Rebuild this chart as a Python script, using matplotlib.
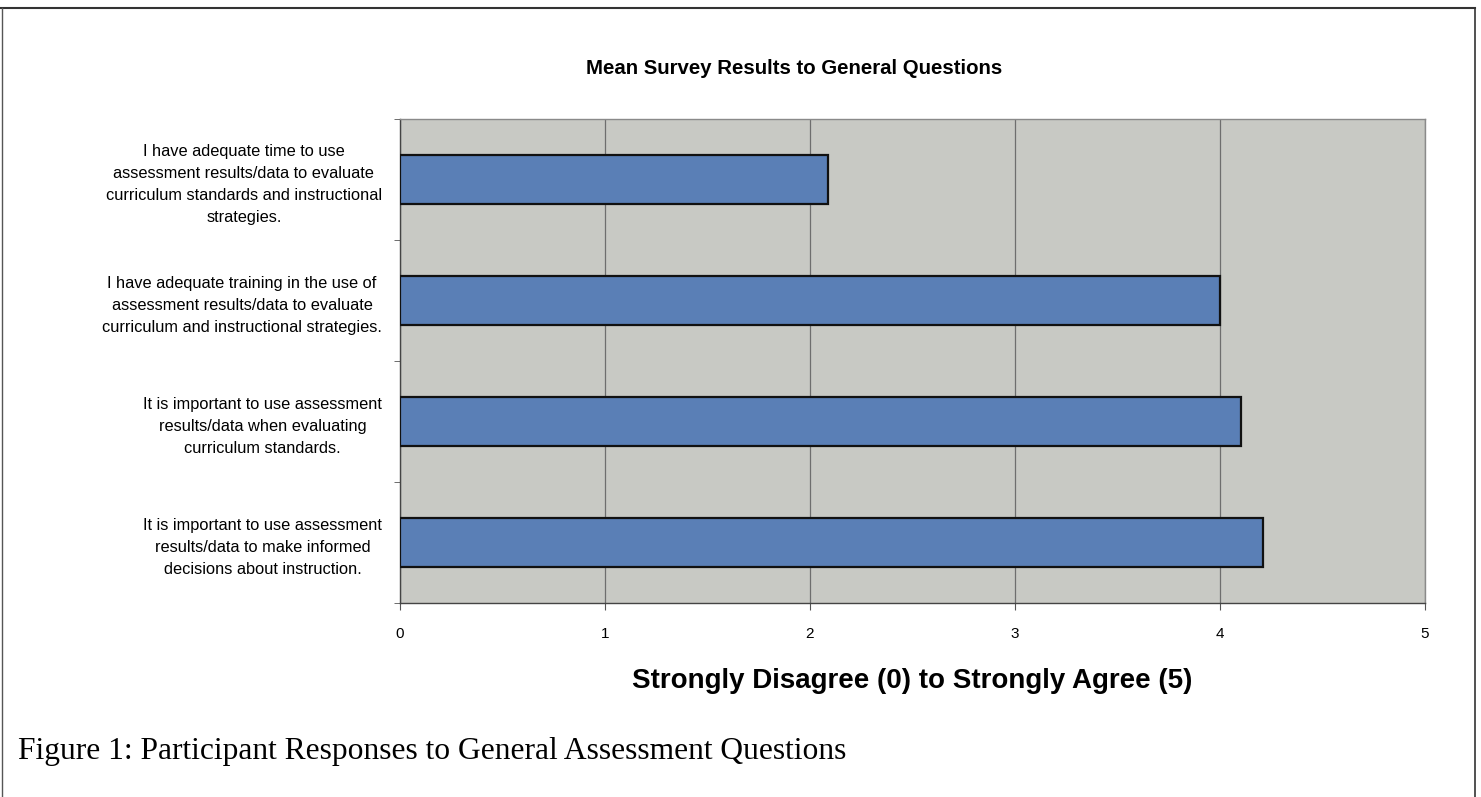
import matplotlib
matplotlib.use("Agg")
import matplotlib.pyplot as plt
from matplotlib.lines import Line2D

categories = [
    "I have adequate time to use\nassessment results/data to evaluate\ncurriculum standards and instructional\nstrategies.",
    "I have adequate training in the use of\nassessment results/data to evaluate\ncurriculum and instructional strategies.",
    "It is important to use assessment\nresults/data when evaluating\ncurriculum standards.",
    "It is important to use assessment\nresults/data to make informed\ndecisions about instruction.",
]
values = [2.09, 4.0, 4.1, 4.21]
xticks = [0, 1, 2, 3, 4, 5]

title = "Mean Survey Results to General Questions"
xlabel = "Strongly Disagree (0) to Strongly Agree (5)"
caption = "Figure 1: Participant Responses to General Assessment Questions"

plt.rcParams['font.family'] = ['Liberation Sans', 'DejaVu Sans']

W, H = 1481, 797
fig = plt.figure(figsize=(W / 100, H / 100), dpi=100)
fig.patch.set_facecolor("white")

ax = fig.add_axes([400 / W, 1 - 603 / H, (1425 - 400) / W, (603 - 119) / H])
ax.set_facecolor("#c8c9c4")

n = len(categories)
pos = list(range(n))
ax.barh(pos, values, height=0.4, color="#5a7fb6", edgecolor="#111111", linewidth=1.6, zorder=3)
ax.set_ylim(n - 0.5, -0.5)
ax.set_xlim(0, 5)

ax.set_xticks(xticks)
ax.set_xticklabels([str(t) for t in xticks], fontsize=11)
ax.tick_params(axis='x', length=5, pad=12, color="#555555")
ax.xaxis.grid(True, color="#6e6e6e", linewidth=0.9, zorder=1)

ax.set_yticks(pos)
ax.set_yticklabels(categories, fontsize=11.8, multialignment='center', linespacing=1.6)
ax.tick_params(axis='y', length=0, pad=13)
ax.set_yticks([i + 0.5 for i in range(-1, n)], minor=True)
ax.tick_params(axis='y', which='minor', length=4, color="#555555")

for s in ["left", "bottom"]:
    ax.spines[s].set_color("#444444")
    ax.spines[s].set_linewidth(1.0)
for s in ["top", "right"]:
    ax.spines[s].set_color("#8a8a8a")
    ax.spines[s].set_linewidth(1.0)

ax.set_xlabel(xlabel, fontsize=20, fontweight='bold', labelpad=20)

fig.text(794 / W, 1 - 69 / H, title, ha='center', va='center', fontsize=14.7, fontweight='bold')
fig.text(18 / W, 1 - 751 / H, caption, ha='left', va='center', fontsize=22.7,
         family=['Liberation Serif', 'DejaVu Serif'])

# outer frame
fig.add_artist(Line2D([0, 1475 / W], [1 - 8 / H, 1 - 8 / H], transform=fig.transFigure, color="#333333", lw=1.5))
fig.add_artist(Line2D([1475 / W, 1475 / W], [1 - 8 / H, 0], transform=fig.transFigure, color="#333333", lw=1.2))
fig.add_artist(Line2D([2 / W, 2 / W], [1 - 8 / H, 0], transform=fig.transFigure, color="#555555", lw=1.0))

fig.savefig("out.png", dpi=100)
